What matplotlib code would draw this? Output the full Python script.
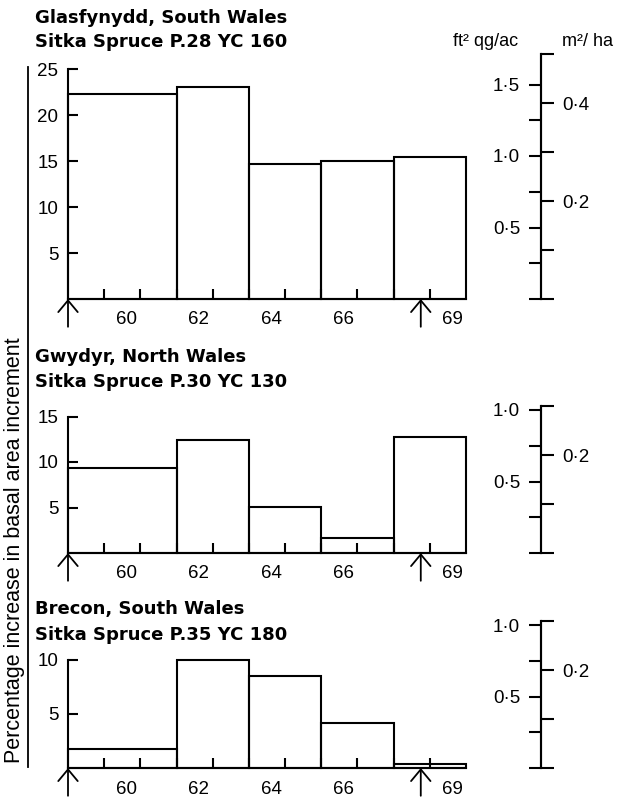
import matplotlib
matplotlib.use("Agg")
import matplotlib.pyplot as plt
from matplotlib.lines import Line2D

plt.rcParams['font.family'] = ['Liberation Sans', 'DejaVu Sans']

# growth periods (years 19xx) covered by each bar
period_start = [59, 62, 64, 66, 68]
period_end = [62, 64, 66, 68, 70]
year_ticks = [60, 61, 62, 63, 64, 65, 66, 67, 68, 69]
year_labels = ['60', '62', '64', '66', '69']
thin_years = [59.0, 68.75]

site_names = ['Glasfynydd, South Wales', 'Gwydyr, North Wales', 'Brecon, South Wales']
site_stands = ['Sitka Spruce P.28 YC 160', 'Sitka Spruce P.30 YC 130', 'Sitka Spruce P.35 YC 180']

# percentage increase in basal area increment
glasfynydd = [22.3, 23.0, 14.7, 15.0, 15.4]
gwydyr = [9.3, 12.4, 5.1, 1.7, 12.8]
brecon = [1.8, 10.0, 8.5, 4.2, 0.35]
site_values = [glasfynydd, gwydyr, brecon]

pct_ticks = [[5, 10, 15, 20, 25], [5, 10, 15], [5, 10]]

# absolute scales (ft2 quarter-girth per acre, m2 per hectare)
ft_ticks = [[0, 0.25, 0.5, 0.75, 1.0, 1.25, 1.5],
            [0, 0.25, 0.5, 0.75, 1.0],
            [0, 0.25, 0.5, 0.75, 1.0]]
ft_labels = [['', '', '0·5', '', '1·0', '', '1·5'],
             ['', '', '0·5', '', '1·0'],
             ['', '', '0·5', '', '1·0']]
m_ticks = [[0, 0.1, 0.2, 0.3, 0.4, 0.5],
           [0, 0.1, 0.2, 0.3],
           [0, 0.1, 0.2, 0.3]]
m_labels = [['', '', '0·2', '', '0·4', ''],
            ['', '', '0·2', ''],
            ['', '', '0·2', '']]
qg_to_m2ha = 0.2923

# layout in pixels (figure 621 x 799)
W, H = 621, 799
ax_left, ax_right = 68, 466
baselines = [299, 553, 768]
ax_tops = [50, 400, 615]
pct_px = [9.2, 9.1, 10.8]
ft_px = 143.0
title_y = [(23, 47), (362, 387), (614, 640)]

fig = plt.figure(figsize=(W / 100, H / 100), dpi=100)
lw = 1.5
tick_fs = 13.5

for i in range(3):
    base, top = baselines[i], ax_tops[i]
    ax = fig.add_axes([ax_left / W, 1 - base / H, (ax_right - ax_left) / W, (base - top) / H])
    ax.set_xlim(59, 70)
    ax.set_ylim(0, (base - top) / pct_px[i])

    widths = [e - s for s, e in zip(period_start, period_end)]
    ax.bar(period_start, site_values[i], width=widths, align='edge', fill=False,
           edgecolor='black', linewidth=lw, clip_on=False)

    for s in ['top', 'right']:
        ax.spines[s].set_visible(False)
    ax.spines['left'].set_bounds(0, pct_ticks[i][-1])
    ax.spines['left'].set_linewidth(lw)
    ax.spines['bottom'].set_linewidth(lw)

    ax.set_yticks(pct_ticks[i])
    ax.tick_params(axis='y', direction='in', length=7, width=lw, labelsize=tick_fs, pad=7)
    ax.set_xticks(year_ticks)
    ax.set_xticklabels([])
    ax.set_xticks([int(y) + 0.62 for y in year_labels], labels=year_labels, minor=True)
    ax.tick_params(axis='x', which='major', direction='in', length=7, width=lw)
    ax.tick_params(axis='x', which='minor', length=0, labelsize=tick_fs, pad=9)

    for ty in thin_years:
        ax.annotate('', xy=(ty, 0), xytext=(0, -20), textcoords='offset points',
                    annotation_clip=False,
                    arrowprops=dict(arrowstyle='->,head_length=0.6,head_width=0.5',
                                    lw=1.3, color='black', shrinkA=0, shrinkB=0,
                                    mutation_scale=14))

    # absolute increment scales on the right
    ft_top = (base - top) / ft_px
    spine_pos = (541 - ax_left) / (ax_right - ax_left)
    ax_ft = ax.twinx()
    ax_ft.set_ylim(0, ft_top)
    for s in ['top', 'right', 'bottom']:
        ax_ft.spines[s].set_visible(False)
    ax_ft.spines['left'].set_position(('axes', spine_pos))
    ax_ft.spines['left'].set_linewidth(lw)
    ax_ft.yaxis.set_ticks_position('left')
    ax_ft.set_yticks(ft_ticks[i], labels=ft_labels[i])
    ax_ft.tick_params(axis='y', direction='out', length=9, width=lw, labelsize=tick_fs, pad=6)

    ax_m = ax.twinx()
    ax_m.set_ylim(0, ft_top * qg_to_m2ha)
    for s in ['top', 'left', 'bottom']:
        ax_m.spines[s].set_visible(False)
    ax_m.spines['right'].set_position(('axes', spine_pos))
    ax_m.spines['right'].set_linewidth(lw)
    ax_m.set_yticks(m_ticks[i], labels=m_labels[i])
    ax_m.tick_params(axis='y', direction='out', length=9, width=lw, labelsize=tick_fs, pad=6)
    ft_end = max(ft_ticks[i][-1], m_ticks[i][-1] / qg_to_m2ha)
    ax_ft.spines['left'].set_bounds(0, ft_end)
    ax_m.spines['right'].set_bounds(0, ft_end * qg_to_m2ha)

    for txt, ty in zip([site_names[i], site_stands[i]], title_y[i]):
        fig.text(35 / W, 1 - ty / H, txt, family='DejaVu Sans', fontsize=13,
                 fontweight='bold', ha='left', va='baseline')

fig.text(518 / W, 1 - 42 / H, 'ft² qg/ac', fontsize=13, ha='right', va='center')
fig.text(562 / W, 1 - 42 / H, 'm²/ ha', fontsize=13, ha='left', va='center')

fig.text(15 / W, 1 - 550 / H, 'Percentage increase in basal area increment',
         rotation=90, fontsize=15.5, ha='center', va='center')
fig.add_artist(Line2D([28 / W, 28 / W], [1 - 67 / H, 1 - 767 / H], color='black', lw=1.3))

fig.savefig('out.png', dpi=100)
